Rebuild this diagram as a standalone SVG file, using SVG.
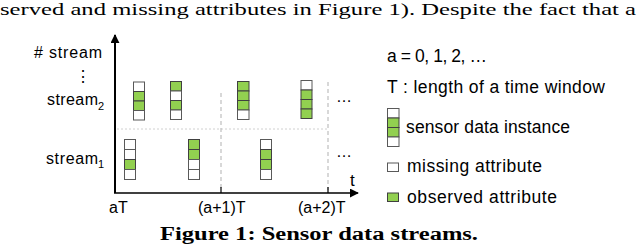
<svg xmlns="http://www.w3.org/2000/svg" width="640" height="249" viewBox="0 0 640 249">
<style>
.s{font-family:"Liberation Sans",Arial,sans-serif;fill:#000}
.w{fill:#fff;stroke:#595959;stroke-width:1}
.g{fill:#92d050;stroke:#404040;stroke-width:1}
.d{stroke:#bfbfbf;stroke-width:1.2;stroke-dasharray:4,3;fill:none}
.p{stroke:#d0d0d0;stroke-width:1;stroke-dasharray:2,2;fill:none}
</style>
<defs>
<marker id="ah" viewBox="0 0 10 10" refX="9" refY="5" markerWidth="9" markerHeight="9" markerUnits="userSpaceOnUse" orient="auto">
<path d="M0,0 L10,5 L0,10 Z" fill="#000"/>
</marker>
</defs>
<rect width="640" height="249" fill="#fff"/>
<text x="0" y="15" font-family="'Liberation Serif','Times New Roman',serif" font-size="17" textLength="636" lengthAdjust="spacingAndGlyphs">served and missing attributes in Figure 1). Despite the fact that a</text>

<g id="connectors">
<line class="p" x1="117" y1="129" x2="328" y2="129"/>
<line class="d" x1="221" y1="93" x2="221" y2="190"/>
<line class="d" x1="328" y1="82" x2="328" y2="190"/>
<line x1="115" y1="193" x2="115" y2="35" stroke="#000" stroke-width="2" marker-end="url(#ah)"/>
<line x1="114" y1="193" x2="358" y2="193" stroke="#000" stroke-width="1.6" marker-end="url(#ah)"/>
<line x1="221" y1="187" x2="221" y2="193" stroke="#000" stroke-width="1.2"/>
<line x1="328" y1="187" x2="328" y2="193" stroke="#000" stroke-width="1.2"/>
</g>

<g id="axis-labels">
<text class="s" x="34" y="58" font-size="16" textLength="68">#&#160;stream</text>
<text class="s" x="75" y="82" font-size="16">⋮</text>
<text class="s" x="47" y="105" font-size="16" textLength="51">stream</text>
<text class="s" x="98" y="110" font-size="11">2</text>
<text class="s" x="46" y="163.5" font-size="16" textLength="52">stream</text>
<text class="s" x="98" y="168" font-size="11">1</text>
<text class="s" x="109" y="213" font-size="16">aT</text>
<text class="s" x="198" y="213" font-size="16">(a+1)T</text>
<text class="s" x="298" y="213" font-size="16">(a+2)T</text>
<text class="s" x="350" y="186" font-size="17">t</text>
<text class="s" x="336" y="102" font-size="16">…</text>
<text class="s" x="336" y="157" font-size="16">…</text>
</g>

<g id="s2-i1">
<rect class="w" x="133.5" y="82" width="11" height="9.5"/>
<rect class="g" x="133.5" y="91.5" width="11" height="9.5"/>
<rect class="g" x="133.5" y="101" width="11" height="9.5"/>
<rect class="w" x="133.5" y="110.5" width="11" height="9.5"/>
</g>
<g id="s2-i2">
<rect class="g" x="170.5" y="81.5" width="11" height="9.5"/>
<rect class="w" x="170.5" y="91" width="11" height="9.5"/>
<rect class="g" x="170.5" y="100.5" width="11" height="9.5"/>
<rect class="w" x="170.5" y="110" width="11" height="9.5"/>
</g>
<g id="s2-i3">
<rect class="g" x="237.5" y="81.5" width="11.5" height="9.5"/>
<rect class="g" x="237.5" y="91" width="11.5" height="9.5"/>
<rect class="g" x="237.5" y="100.5" width="11.5" height="9.5"/>
<rect class="w" x="237.5" y="110" width="11.5" height="9.5"/>
</g>
<g id="s2-i4">
<rect class="w" x="301" y="80.5" width="11" height="9.5"/>
<rect class="g" x="301" y="90" width="11" height="9.5"/>
<rect class="g" x="301" y="99.5" width="11" height="9.5"/>
<rect class="g" x="301" y="109" width="11" height="9.5"/>
</g>
<g id="s1-i1">
<rect class="w" x="124.5" y="139.5" width="11" height="10"/>
<rect class="w" x="124.5" y="149.5" width="11" height="10"/>
<rect class="g" x="124.5" y="159.5" width="11" height="10"/>
<rect class="w" x="124.5" y="169.5" width="11" height="10"/>
</g>
<g id="s1-i2">
<rect class="g" x="188.5" y="139.5" width="11" height="10"/>
<rect class="g" x="188.5" y="149.5" width="11" height="10"/>
<rect class="w" x="188.5" y="159.5" width="11" height="10"/>
<rect class="w" x="188.5" y="169.5" width="11" height="10"/>
</g>
<g id="s1-i3">
<rect class="w" x="260.5" y="139.5" width="11" height="10"/>
<rect class="g" x="260.5" y="149.5" width="11" height="10"/>
<rect class="g" x="260.5" y="159.5" width="11" height="10"/>
<rect class="w" x="260.5" y="169.5" width="11" height="10"/>
</g>

<g id="legend">
<text class="s" x="387" y="62" font-size="17.5" textLength="100">a = 0, 1, 2, …</text>
<text class="s" x="387" y="93" font-size="17.5" textLength="218">T : length of a time window</text>
<rect class="w" x="387.5" y="108.5" width="11.5" height="9.5"/>
<rect class="g" x="387.5" y="118" width="11.5" height="9.5"/>
<rect class="g" x="387.5" y="127.5" width="11.5" height="9.5"/>
<rect class="w" x="387.5" y="137" width="11.5" height="9.5"/>
<text class="s" x="406" y="133" font-size="17.5" textLength="164">sensor data instance</text>
<rect class="w" x="387.5" y="163" width="11" height="8.5"/>
<text class="s" x="407" y="172" font-size="17.5" textLength="135">missing attribute</text>
<rect class="g" x="387.5" y="193" width="11" height="8.5"/>
<text class="s" x="407" y="203" font-size="17.5" textLength="150">observed attribute</text>
</g>

<text x="160" y="240" font-family="'Liberation Serif','Times New Roman',serif" font-weight="bold" font-size="18" textLength="318" lengthAdjust="spacingAndGlyphs">Figure 1: Sensor data streams.</text>
</svg>
